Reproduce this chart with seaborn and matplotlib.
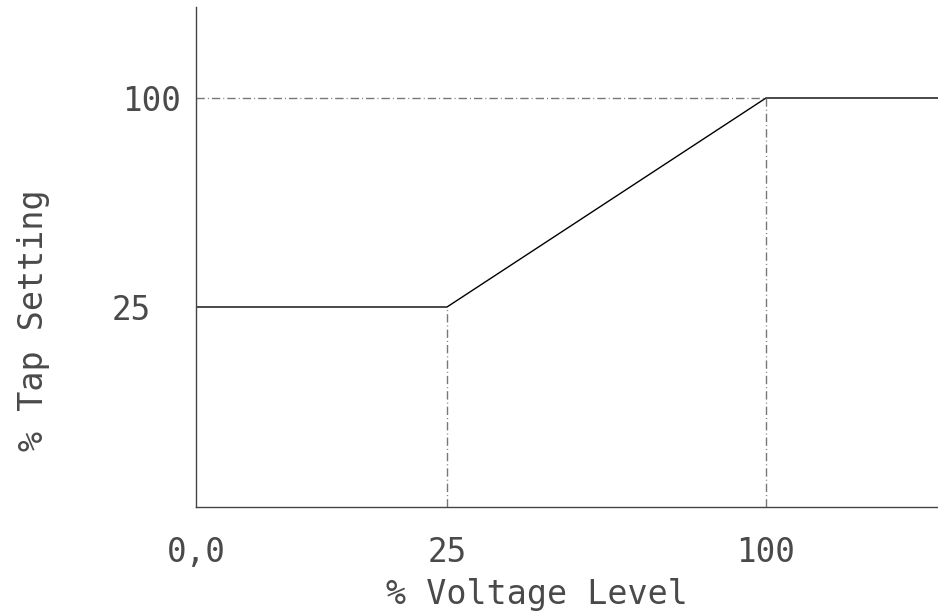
import matplotlib.pyplot as plt
import matplotlib.transforms as mtransforms
import numpy as np
import pandas as pd
import seaborn as sns

# curve: % voltage level -> % tap setting
voltage = [0, 25, 100, 130]
tap = [25, 25, 100, 100]

x_ticks = [0, 25, 100]
x_labels = ["0,0", "25", "100"]
y_ticks = [25, 100]
y_labels = ["25", "100"]

# the drawing is schematic: breakpoints are not spaced to scale
x_knots = [0, 25, 100, 130]
x_pos = [0, 251, 570, 742]
y_knots = [0, 25, 100, 120]
y_pos = [0, 200, 409, 500]


def piecewise(knots, pos):
    fwd = lambda v: np.interp(v, knots, pos)
    inv = lambda p: np.interp(p, pos, knots)
    return fwd, inv


sns.set_theme(style="white")
plt.rcParams["font.family"] = ["DejaVu Sans Mono"]

fig = plt.figure(figsize=(9.38, 6.16), dpi=100)
ax = fig.add_axes([196 / 938, 109 / 616, 742 / 938, 500 / 616])
ax.set_xscale("function", functions=piecewise(x_knots, x_pos))
ax.set_yscale("function", functions=piecewise(y_knots, y_pos))

df = pd.DataFrame({"voltage": voltage, "tap": tap})
sns.lineplot(data=df, x="voltage", y="tap", sort=False, estimator=None,
             color="black", lw=1.0, ax=ax)

guide = dict(color="#777777", lw=1.0, linestyle=(0, (6, 2.2, 0.7, 2.2)))
ax.vlines(x_ticks[1:], 0, [tap[1], tap[2]], **guide)
ax.hlines(tap[2], 0, voltage[2], **guide)

ax.set_xlim(x_knots[0], x_knots[-1])
ax.set_ylim(y_knots[0], y_knots[-1])
ax.set_xticks(x_ticks, x_labels)
ax.set_yticks(y_ticks, y_labels)
txt = "#4a4a4a"
ax.tick_params(axis="x", length=0, pad=21, labelsize=23.5, labelcolor=txt)
ax.tick_params(axis="y", length=0, pad=11, labelsize=23.5, labelcolor=txt)

# the "25" on the y axis sits further left in the drawing
lab = ax.get_yticklabels()[0]
lab.set_transform(lab.get_transform() + mtransforms.ScaledTranslation(-0.3, 0, fig.dpi_scale_trans))

for side in ["top", "right"]:
    ax.spines[side].set_visible(False)
for side in ["left", "bottom"]:
    ax.spines[side].set_color("#444444")
    ax.spines[side].set_linewidth(1.0)

ax.set_xlabel("% Voltage Level", fontsize=24, color=txt)
ax.set_ylabel("% Tap Setting", fontsize=24, color=txt)
ax.xaxis.set_label_coords(0.46, -0.142)
ax.yaxis.set_label_coords(-0.197, 0.374)

fig.savefig("out.png", dpi=100)
